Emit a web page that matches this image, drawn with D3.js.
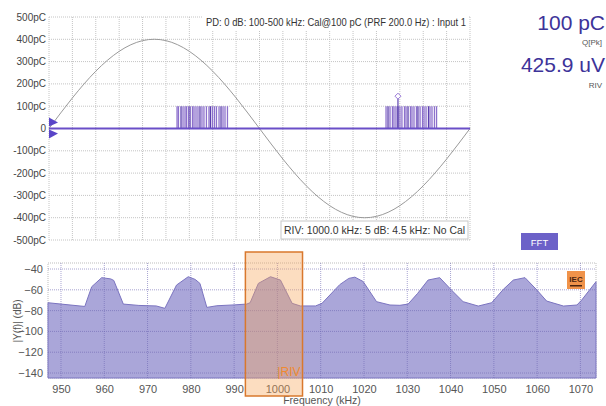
<!DOCTYPE html>
<html>
<head>
<meta charset="utf-8">
<script src="https://cdn.jsdelivr.net/npm/d3@7"></script>
<style>
  body { margin: 0; background: #fff; }
  svg { display: block; font-family: "Liberation Sans", Arial, sans-serif; }
</style>
</head>
<body>
<div id="chart"></div>
<script>
// ---- top panel: phase resolved PD ----
const phaseTicks = [0, 20, 40, 60, 80, 100, 120, 140, 160, 180, 200, 220, 240, 260, 280, 300, 320, 340, 360];
const chargeTicks = [500, 400, 300, 200, 100, 0, -100, -200, -300, -400, -500];
const chargeLabels = ["500pC", "400pC", "300pC", "200pC", "100pC", "0", "-100pC", "-200pC", "-300pC", "-400pC", "-500pC"];
// reference sine read at 20 deg steps
const sinePhase = [0, 20, 40, 60, 80, 100, 120, 140, 160, 180, 200, 220, 240, 260, 280, 300, 320, 340, 360];
const sineValue = [0, 137, 257, 346, 394, 394, 346, 257, 137, 0, -137, -257, -346, -394, -394, -346, -257, -137, 0];
// pulse phases (deg), all at 100 pC
const pulsesA = [109.5, 110.7, 112.9, 114.6, 116.3, 117.6, 119.3, 120.6, 122.7, 124.0, 125.7, 127.4, 129.1, 130.8, 132.5, 134.6, 136.8, 138.1, 139.8, 141.5, 143.2, 145.4, 147.1, 148.8, 150.5, 152.6];
const pulsesB = [288.2, 289.9, 291.6, 293.7, 295.0, 296.7, 298.4, 300.1, 301.8, 304.0, 305.3, 307.0, 309.1, 310.4, 312.1, 314.2, 315.5, 317.3, 319.4, 320.7, 322.4, 324.5, 325.8, 327.5, 329.6, 331.4];
const pulseCharge = 100;
const markerPulse = { phase: 298.4, charge: 145 };

// ---- bottom panel: spectrum ----
const freqTicks = [950, 960, 970, 980, 990, 1000, 1010, 1020, 1030, 1040, 1050, 1060, 1070];
const dbTicks = [-40, -60, -80, -100, -120, -140];
const specFreq = [947.0, 950.0, 955.5, 957.1, 959.4, 961.5, 962.2, 964.4, 968.0, 972.0, 974.0, 976.7, 979.4, 981.0, 982.1, 983.7, 986.0, 990.0, 992.9, 993.7, 995.6, 998.4, 1000.7, 1003.4, 1005.3, 1008.8, 1010.3, 1014.4, 1016.5, 1017.9, 1019.8, 1022.9, 1026.0, 1028.3, 1030.2, 1032.4, 1034.8, 1037.5, 1040.2, 1042.9, 1046.4, 1049.5, 1052.2, 1054.5, 1057.2, 1059.9, 1062.2, 1066.1, 1069.2, 1070.3, 1073.6];
const specDb = [-72.4, -73.7, -76.0, -57.0, -48.3, -49.5, -51.0, -73.7, -75.0, -75.5, -77.8, -55.4, -47.4, -50.0, -53.8, -76.9, -75.3, -74.5, -73.7, -72.4, -53.8, -47.4, -50.6, -73.0, -75.5, -75.5, -73.0, -55.0, -49.0, -47.8, -52.0, -71.4, -74.6, -74.9, -73.7, -63.4, -50.6, -48.3, -60.2, -71.4, -75.6, -72.4, -59.5, -50.6, -48.3, -60.0, -70.8, -75.6, -74.6, -69.8, -52.2];
const rivBand = [992.6, 1005.8];

const W = 606, H = 406;
const svg = d3.select("#chart").append("svg").attr("width", W).attr("height", H);

// ================= top panel =================
const px = d3.scaleLinear().domain([0, 360]).range([49, 470]);
const py = d3.scaleLinear().domain([-500, 500]).range([240, 17]);
const prpd = svg.append("g");

prpd.append("g").selectAll("line")
  .data(phaseTicks)
  .enter().append("line")
    .attr("x1", d => px(d)).attr("x2", d => px(d))
    .attr("y1", py(500)).attr("y2", py(-500))
    .attr("stroke", "#c4c4c4").attr("stroke-dasharray", "1,1");
prpd.append("g").selectAll("line")
  .data(chargeTicks)
  .enter().append("line")
    .attr("x1", px(0)).attr("x2", px(360))
    .attr("y1", d => py(d)).attr("y2", d => py(d))
    .attr("stroke", "#c4c4c4").attr("stroke-dasharray", "1,1");

prpd.append("g").selectAll("text")
  .data(chargeTicks)
  .enter().append("text")
    .attr("x", 46).attr("y", d => py(d) + 3.5)
    .attr("text-anchor", "end")
    .attr("font-size", 10).attr("fill", "#444")
    .text((d, i) => chargeLabels[i]);

// sine reference
prpd.append("path")
  .datum(sinePhase.map((p, i) => [p, sineValue[i]]))
  .attr("fill", "none").attr("stroke", "#9a9a9a").attr("stroke-width", 1)
  .attr("d", d3.line().x(d => px(d[0])).y(d => py(d[1])).curve(d3.curveNatural));

// pulses
prpd.append("g").selectAll("line")
  .data(pulsesA.concat(pulsesB))
  .enter().append("line")
    .attr("x1", d => px(d)).attr("x2", d => px(d))
    .attr("y1", py(0)).attr("y2", py(pulseCharge))
    .attr("stroke", (d, i) => i % 5 === 2 ? "#5b3fae" : "#8c70cc")
    .attr("stroke-width", 1.3);

prpd.append("line")
  .attr("x1", px(markerPulse.phase)).attr("x2", px(markerPulse.phase))
  .attr("y1", py(0)).attr("y2", py(markerPulse.charge))
  .attr("stroke", "#5b3fae").attr("stroke-width", 1.2);
prpd.append("path")
  .attr("transform", "translate(" + px(markerPulse.phase) + "," + py(markerPulse.charge) + ")")
  .attr("d", "M0,-3L3,0L0,3L-3,0Z")
  .attr("fill", "#fff").attr("stroke", "#9a7ad8");

// zero line + markers
prpd.append("line")
  .attr("x1", px(0)).attr("x2", px(360))
  .attr("y1", py(0)).attr("y2", py(0))
  .attr("stroke", "#6a4fc8").attr("stroke-width", 2);
prpd.append("path")
  .attr("d", "M" + px(0) + "," + (py(0) - 11) + "l9,5l-9,4Z")
  .attr("fill", "#5a45c8");
prpd.append("path")
  .attr("d", "M" + px(0) + "," + (py(0) + 1) + "l9,4l-9,5Z")
  .attr("fill", "#5a45c8");

// labels in the plot
prpd.append("rect")
  .attr("x", 203).attr("y", 14).attr("width", 265).attr("height", 16)
  .attr("fill", "#fff");
prpd.append("text")
  .attr("x", 206).attr("y", 26)
  .attr("font-size", 10.5).attr("fill", "#333")
  .attr("textLength", 260).attr("lengthAdjust", "spacingAndGlyphs")
  .text("PD: 0 dB: 100-500 kHz: Cal@100 pC (PRF 200.0 Hz) : Input 1");

prpd.append("rect")
  .attr("x", 281).attr("y", 221).attr("width", 187).attr("height", 18)
  .attr("fill", "#fff").attr("stroke", "#c8c8c8");
prpd.append("text")
  .attr("x", 284).attr("y", 234)
  .attr("font-size", 10.5).attr("fill", "#333")
  .attr("textLength", 181).attr("lengthAdjust", "spacingAndGlyphs")
  .text("RIV: 1000.0 kHz: 5 dB: 4.5 kHz: No Cal");

// readouts
const readout = svg.append("g").attr("fill", "#3d3399");
readout.append("text").attr("x", 605).attr("y", 30).attr("text-anchor", "end")
  .attr("font-size", 21).text("100 pC");
readout.append("text").attr("x", 602).attr("y", 45).attr("text-anchor", "end")
  .attr("font-size", 8).attr("fill", "#555").text("Q[Pk]");
readout.append("text").attr("x", 605).attr("y", 72).attr("text-anchor", "end")
  .attr("font-size", 21).text("425.9 uV");
readout.append("text").attr("x", 602).attr("y", 88).attr("text-anchor", "end")
  .attr("font-size", 8).attr("fill", "#555").text("RIV");

// FFT button
svg.append("rect").attr("x", 521).attr("y", 233).attr("width", 37).attr("height", 17)
  .attr("fill", "#6c61c8");
svg.append("text").attr("x", 539.5).attr("y", 245.5).attr("text-anchor", "middle")
  .attr("font-size", 9.5).attr("fill", "#fff").text("FFT");

// ================= bottom panel =================
const fx = d3.scaleLinear().domain([947, 1073.6]).range([48, 596]);
const fy = d3.scaleLinear().domain([-34.2, -144.8]).range([263, 378]);
const spec = svg.append("g");

spec.append("rect")
  .attr("x", fx(947)).attr("y", fy(-34.2))
  .attr("width", fx(1073.6) - fx(947)).attr("height", fy(-144.8) - fy(-34.2))
  .attr("fill", "#fff").attr("stroke", "#bdbdbd").attr("stroke-dasharray", "1,1");

spec.append("path")
  .datum(specFreq.map((f, i) => [f, specDb[i]]))
  .attr("fill", "#aaa6d9").attr("stroke", "#7b74c0").attr("stroke-width", 1)
  .attr("d", d3.area().x(d => fx(d[0])).y0(fy(-144.8)).y1(d => fy(d[1])));

spec.append("g").selectAll("line")
  .data(freqTicks)
  .enter().append("line")
    .attr("x1", d => fx(d)).attr("x2", d => fx(d))
    .attr("y1", fy(-34.2)).attr("y2", fy(-144.8))
    .attr("stroke", "#6e67b3").attr("stroke-opacity", 0.6).attr("stroke-dasharray", "1,1");
spec.append("g").selectAll("line")
  .data(dbTicks)
  .enter().append("line")
    .attr("x1", fx(947)).attr("x2", fx(1073.6))
    .attr("y1", d => fy(d)).attr("y2", d => fy(d))
    .attr("stroke", "#6e67b3").attr("stroke-opacity", 0.6).attr("stroke-dasharray", "1,1");

const xAxis = spec.append("g")
  .attr("transform", "translate(0," + fy(-144.8) + ")")
  .call(d3.axisBottom(fx).tickValues(freqTicks).tickFormat(d3.format("d")).tickSize(0).tickPadding(7));
const yAxis = spec.append("g")
  .attr("transform", "translate(" + fx(947) + ",0)")
  .call(d3.axisLeft(fy).tickValues(dbTicks).tickFormat(d3.format("d")).tickSize(0).tickPadding(5));
[xAxis, yAxis].forEach(a => {
  a.select(".domain").remove();
  a.selectAll("text").attr("font-size", 11).attr("fill", "#555")
    .attr("font-family", "Liberation Sans, Arial, sans-serif");
});

spec.append("text")
  .attr("transform", "translate(21," + fy(-90) + ") rotate(-90)")
  .attr("text-anchor", "middle").attr("font-size", 10).attr("fill", "#555")
  .text("|Y(f)| (dB)");
spec.append("text")
  .attr("x", 322).attr("y", 404).attr("text-anchor", "middle")
  .attr("font-size", 10.5).attr("fill", "#555")
  .text("Frequency (kHz)");

// RIV band
spec.append("rect")
  .attr("x", fx(rivBand[0])).attr("y", 252)
  .attr("width", fx(rivBand[1]) - fx(rivBand[0])).attr("height", 144)
  .attr("fill", "#f8a55a").attr("fill-opacity", 0.38)
  .attr("stroke", "#d9782d").attr("stroke-width", 1.5);
spec.append("text")
  .attr("x", fx(rivBand[1]) - 2).attr("y", 376).attr("text-anchor", "end")
  .attr("font-size", 12).attr("fill", "#f08a30")
  .text("|RIV");

// IEC badge
spec.append("rect").attr("x", 567).attr("y", 271).attr("width", 18).attr("height", 18)
  .attr("fill", "#f0934a");
spec.append("text").attr("x", 576).attr("y", 282).attr("text-anchor", "middle")
  .attr("font-size", 8).attr("font-weight", "bold").attr("fill", "#4a2410").text("IEC");
spec.append("rect").attr("x", 570).attr("y", 285).attr("width", 12).attr("height", 1.5)
  .attr("fill", "#4a2410");
</script>
</body>
</html>
